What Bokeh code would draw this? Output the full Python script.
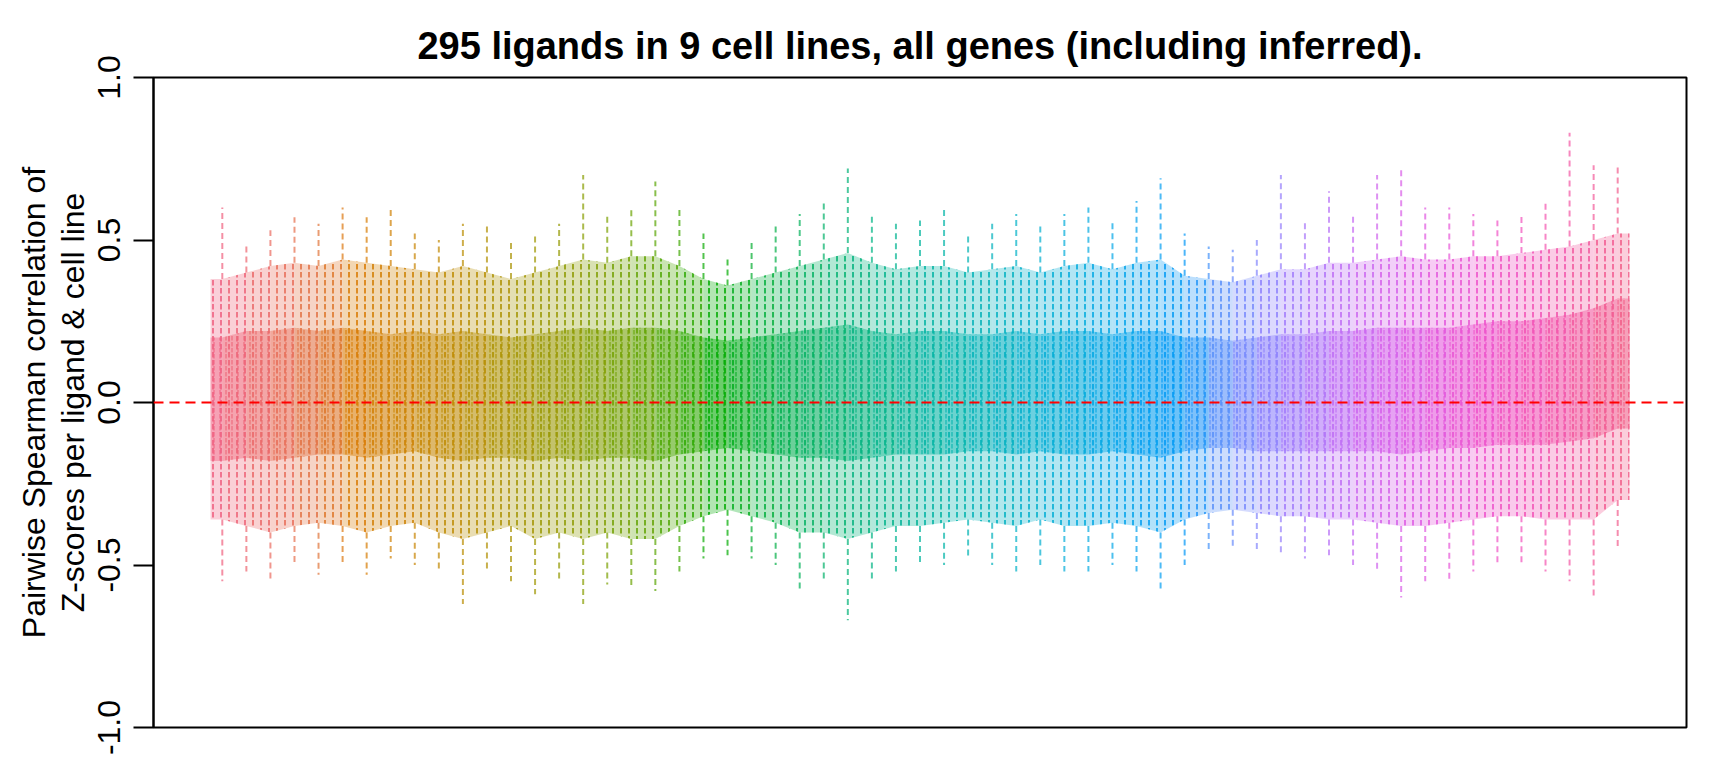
import math

from bokeh.embed import file_html
from bokeh.models import (ColumnDataSource, FixedTicker, LinearAxis,
                          NumeralTickFormatter, Range1d, Span)
from bokeh.plotting import figure
from bokeh.resources import INLINE

# 295 ligands x 9 cell lines = 2655 boxplots, summarised here in bins of 5 ligands
n_ligands = 295
n_cell_lines = 9
ligands_per_bin = 5

# values, one per bin (59 bins, left to right)
box_lo = [-0.18, -0.17, -0.18, -0.17, -0.16, -0.16, -0.17, -0.16, -0.15, -0.17,
          -0.18, -0.17, -0.17, -0.18, -0.17, -0.18, -0.17, -0.17, -0.18, -0.16,
          -0.15, -0.14, -0.15, -0.16, -0.17, -0.17, -0.18, -0.17, -0.16, -0.16,
          -0.16, -0.15, -0.15, -0.16, -0.15, -0.16, -0.16, -0.15, -0.16, -0.17,
          -0.15, -0.14, -0.14, -0.15, -0.15, -0.15, -0.15, -0.15, -0.15, -0.16,
          -0.15, -0.14, -0.14, -0.13, -0.13, -0.13, -0.12, -0.11, -0.08]
box_hi = [0.20, 0.22, 0.22, 0.23, 0.22, 0.23, 0.22, 0.21, 0.22, 0.21,
          0.22, 0.21, 0.20, 0.21, 0.22, 0.23, 0.22, 0.23, 0.23, 0.22,
          0.20, 0.19, 0.20, 0.21, 0.22, 0.23, 0.24, 0.22, 0.21, 0.22,
          0.22, 0.21, 0.21, 0.22, 0.21, 0.22, 0.22, 0.21, 0.22, 0.22,
          0.20, 0.20, 0.19, 0.20, 0.21, 0.21, 0.22, 0.22, 0.23, 0.23,
          0.23, 0.23, 0.24, 0.25, 0.25, 0.26, 0.27, 0.29, 0.32]
whisker_lo = [-0.36, -0.38, -0.40, -0.38, -0.37, -0.38, -0.40, -0.38, -0.37, -0.40,
              -0.42, -0.40, -0.38, -0.42, -0.40, -0.42, -0.40, -0.42, -0.42, -0.38,
              -0.35, -0.33, -0.35, -0.37, -0.40, -0.40, -0.42, -0.40, -0.38, -0.38,
              -0.37, -0.36, -0.37, -0.38, -0.36, -0.38, -0.38, -0.37, -0.38, -0.40,
              -0.36, -0.34, -0.33, -0.34, -0.35, -0.35, -0.36, -0.36, -0.37, -0.38,
              -0.38, -0.37, -0.36, -0.35, -0.35, -0.36, -0.36, -0.36, -0.30]
whisker_hi = [0.38, 0.40, 0.42, 0.43, 0.42, 0.44, 0.43, 0.42, 0.41, 0.40,
              0.42, 0.40, 0.38, 0.40, 0.42, 0.44, 0.43, 0.45, 0.45, 0.42,
              0.38, 0.36, 0.38, 0.40, 0.42, 0.44, 0.46, 0.43, 0.41, 0.42,
              0.42, 0.40, 0.41, 0.42, 0.40, 0.42, 0.43, 0.41, 0.43, 0.44,
              0.39, 0.38, 0.37, 0.39, 0.41, 0.41, 0.43, 0.43, 0.44, 0.45,
              0.44, 0.44, 0.45, 0.45, 0.46, 0.47, 0.48, 0.50, 0.52]
tip_lo = [-0.55, -0.52, -0.55, -0.50, -0.53, -0.50, -0.53, -0.48, -0.50, -0.52,
          -0.62, -0.52, -0.55, -0.59, -0.55, -0.62, -0.56, -0.57, -0.58, -0.52,
          -0.48, -0.47, -0.48, -0.50, -0.58, -0.55, -0.67, -0.55, -0.52, -0.50,
          -0.50, -0.48, -0.50, -0.52, -0.50, -0.52, -0.52, -0.50, -0.52, -0.58,
          -0.50, -0.46, -0.45, -0.46, -0.47, -0.48, -0.47, -0.50, -0.52, -0.60,
          -0.55, -0.55, -0.52, -0.50, -0.50, -0.52, -0.55, -0.60, -0.45]
tip_hi = [0.60, 0.48, 0.53, 0.57, 0.55, 0.60, 0.57, 0.60, 0.52, 0.50,
          0.55, 0.55, 0.50, 0.52, 0.55, 0.70, 0.58, 0.60, 0.68, 0.60,
          0.52, 0.45, 0.50, 0.55, 0.58, 0.62, 0.72, 0.58, 0.55, 0.56,
          0.60, 0.52, 0.55, 0.58, 0.55, 0.58, 0.60, 0.56, 0.62, 0.69,
          0.52, 0.48, 0.47, 0.50, 0.70, 0.56, 0.65, 0.58, 0.70, 0.72,
          0.60, 0.60, 0.58, 0.56, 0.58, 0.62, 0.83, 0.73, 0.73]

y_ticks = [-1.0, -0.5, 0.0, 0.5, 1.0]
title = "295 ligands in 9 cell lines, all genes (including inferred)."
FONT = "Liberation Sans"


def hcl(h, c=100.0, l=60.0):
    # polar LUV -> sRGB hex, like R's hcl()
    xn, yn, zn = 95.047, 100.0, 108.883
    u = c * math.cos(math.radians(h))
    v = c * math.sin(math.radians(h))
    y = yn * ((l + 16) / 116) ** 3
    den = xn + 15 * yn + 3 * zn
    up = u / (13 * l) + 4 * xn / den
    vp = v / (13 * l) + 9 * yn / den
    x = 9 * y * up / (4 * vp)
    z = y * (12 - 3 * up - 20 * vp) / (4 * vp)
    x, y, z = x / 100, y / 100, z / 100
    rgb = [3.240479 * x - 1.537150 * y - 0.498535 * z,
           -0.969256 * x + 1.875992 * y + 0.041556 * z,
           0.055648 * x - 0.204043 * y + 1.057311 * z]
    out = []
    for t in rgb:
        t = min(1.0, max(0.0, t))
        t = 12.92 * t if t <= 0.0031308 else 1.055 * t ** (1 / 2.4) - 0.055
        out.append(round(t * 255))
    return "#%02x%02x%02x" % tuple(out)


def hue_at(box_x):
    # colour of the ligand that a box position belongs to
    return hcl(360.0 * ((box_x - 1) / n_cell_lines) / n_ligands)


n_box = n_ligands * n_cell_lines
per_bin = ligands_per_bin * n_cell_lines
n_bins = len(box_lo)
centers = [per_bin * i + (per_bin + 1) / 2 for i in range(n_bins)]

# band pieces between neighbouring bin centres (first/last run out to the end boxes)
xp = [1] + centers + [n_box]


def ext(a):
    return [a[0]] + a + [a[-1]]


def band(lo, hi):
    lo, hi = ext(lo), ext(hi)
    xs, ys, cs = [], [], []
    for k in range(len(xp) - 1):
        xs.append([xp[k], xp[k + 1], xp[k + 1], xp[k]])
        ys.append([hi[k], hi[k + 1], lo[k + 1], lo[k]])
        cs.append(hue_at((xp[k] + xp[k + 1]) / 2))
    return ColumnDataSource(dict(xs=xs, ys=ys, color=cs))


whisk_src = band(whisker_lo, whisker_hi)
box_src = band(box_lo, box_hi)
tip_src = ColumnDataSource(dict(x=centers, wlo=whisker_lo, whi=whisker_hi,
                                tlo=tip_lo, thi=tip_hi,
                                color=[hue_at(c) for c in centers]))

pad = 0.04 * n_box
p = figure(frame_width=1533, frame_height=650,
           min_border_left=153, min_border_right=34,
           min_border_top=77, min_border_bottom=33,
           x_range=Range1d(0.5 - pad, n_box + 0.5 + pad),
           y_range=Range1d(-1, 1),
           title=title, output_backend="svg", toolbar_location=None)

p.title.text_font = FONT
p.title.text_font_size = "38px"
p.title.text_font_style = "bold"
p.title.text_color = "black"
p.title.align = "center"
p.title.standoff = 22

p.xaxis.visible = False
p.grid.visible = False
p.outline_line_color = "black"
p.outline_line_width = 2
p.background_fill_color = "white"
p.border_fill_color = "white"

# whisker zone (dashed texture), boxes, then the longest whiskers
p.patches(xs="xs", ys="ys", source=whisk_src, fill_color="color",
          fill_alpha=0.3, line_color=None,
          hatch_pattern="vertical_dash", hatch_color="color", hatch_alpha=0.8,
          hatch_scale=8, hatch_weight=2)
p.patches(xs="xs", ys="ys", source=box_src, fill_color="color",
          fill_alpha=0.4, line_color=None,
          hatch_pattern="vertical_dash", hatch_color="color", hatch_alpha=0.5,
          hatch_scale=6, hatch_weight=2)
p.segment(x0="x", y0="whi", x1="x", y1="thi", source=tip_src, line_color="color",
          line_alpha=0.7, line_width=2, line_dash="6 4")
p.segment(x0="x", y0="wlo", x1="x", y1="tlo", source=tip_src, line_color="color",
          line_alpha=0.7, line_width=2, line_dash="6 4")

p.add_layout(Span(location=0, dimension="width", line_color="red",
                  line_width=2, line_dash="10 6"))

ax = p.yaxis[0]
ax.ticker = FixedTicker(ticks=y_ticks)
ax.formatter = NumeralTickFormatter(format="0.0")
ax.major_label_orientation = "vertical"
ax.major_label_text_font = FONT
ax.major_label_text_font_size = "32px"
ax.major_label_text_color = "black"
ax.major_label_standoff = 14
ax.major_tick_out = 20
ax.major_tick_in = 0
ax.minor_tick_out = 0
ax.minor_tick_in = 0
ax.major_tick_line_width = 2
ax.axis_line_width = 2
ax.axis_label = "Z-scores per ligand & cell line"
ax.axis_label_text_font = FONT
ax.axis_label_text_font_size = "32px"
ax.axis_label_text_font_style = "normal"
ax.axis_label_text_color = "black"
ax.axis_label_standoff = 4

outer = LinearAxis(axis_label="Pairwise Spearman correlation of",
                   ticker=FixedTicker(ticks=[]), axis_line_color=None,
                   major_tick_out=0, major_tick_in=0, minor_tick_out=0,
                   minor_tick_in=0, major_label_text_font_size="0px",
                   axis_label_text_font=FONT, axis_label_text_font_size="32px",
                   axis_label_text_font_style="normal",
                   axis_label_text_color="black", axis_label_standoff=0)
p.add_layout(outer, "left")

open("out.html", "w").write(file_html(p, INLINE))
